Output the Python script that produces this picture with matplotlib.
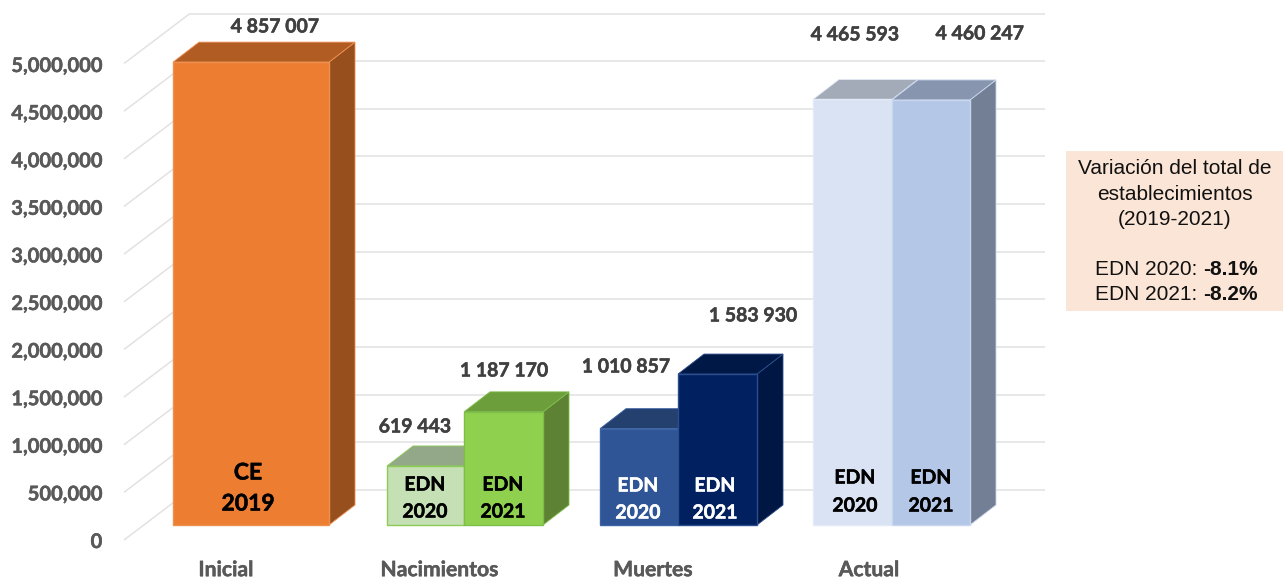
import matplotlib
matplotlib.use("Agg")
import matplotlib.pyplot as plt
import matplotlib.patheffects as pe
from matplotlib.patches import Polygon, Rectangle

# ---- data ----
groups = ["Inicial", "Nacimientos", "Muertes", "Actual"]
tick_values = [0, 500000, 1000000, 1500000, 2000000, 2500000, 3000000, 3500000, 4000000, 4500000, 5000000]
inicial_values = [4857007]
nacimientos_values = [619443, 1187170]
muertes_values = [1010857, 1583930]
actual_values = [4465593, 4460247]
inner_labels = ["CE\n2019", "EDN\n2020", "EDN\n2021", "EDN\n2020", "EDN\n2021", "EDN\n2020", "EDN\n2021"]
value_labels = ["4 857 007", "619 443", "1 187 170", "1 010 857", "1 583 930", "4 465 593", "4 460 247"]

# ---- layout (pixels) ----
W, H = 1285, 578
PXV = 95.3e-6          # pixels per unit of value
BASE = 525
DX, DYPX = 26, 20
DY = DYPX / PXV
LBL = "Lato"
fig = plt.figure(figsize=(W / 100, H / 100), dpi=100, facecolor="white")
ax = fig.add_axes([0, 0, 1, 1], facecolor="none")
ax.set_xlim(0, W)
ax.set_ylim(-(H - BASE) / PXV, BASE / PXV)
ax.axis("off")

def yv(px):
    return (BASE - px) / PXV

def thick(col, w=0.35):
    return [pe.withStroke(linewidth=w, foreground=col)]

# walls
GRID = "#e2e2e2"
BACK0 = 490
for v in tick_values:
    yb = yv(BACK0) + v
    yf = yv(540) + v
    ax.plot([124, 190], [yf, yb], color=GRID, lw=1.1, zorder=1, solid_capstyle="butt")
    ax.plot([190, 1045], [yb, yb], color=GRID, lw=1.1, zorder=1, solid_capstyle="butt")

# bars: left, right, value, front, top, side, edge
bars = [
    (173, 329, inicial_values[0], "#ED7D31", "#B15C23", "#97501D", "#F09050"),
    (387, 464, nacimientos_values[0], "#C5E0B4", "#93A889", "#7F9A70", "#8CCB55"),
    (464, 543, nacimientos_values[1], "#8FD14F", "#6D9E3C", "#5E8233", "#7DBF48"),
    (600, 678, muertes_values[0], "#2F5597", "#24406F", "#1E3560", "#3A62A5"),
    (678, 757, muertes_values[1], "#002060", "#001845", "#001643", "#2C4E8C"),
    (813, 892, actual_values[0], "#DAE3F3", "#A3ABB8", "#8E96A3", "#E4EAF6"),
    (892, 970, actual_values[1], "#B4C7E7", "#8796AE", "#727F95", "#C8D6EE"),
]
z = 3
for left, right, val, front, top, side, edge in bars:
    ax.add_patch(Polygon([(right, 0), (right + DX, DY), (right + DX, val + DY), (right, val)],
                         facecolor=side, edgecolor=edge, lw=0.6, zorder=z))
    ax.add_patch(Polygon([(left, val), (left + DX, val + DY), (right + DX, val + DY), (right, val)],
                         facecolor=top, edgecolor=edge, lw=0.6, zorder=z))
    ax.add_patch(Rectangle((left, 0), right - left, val, facecolor=front, edgecolor=edge, lw=1.0, zorder=z + 0.5))
    z += 1

# inner labels
inner_pos = [(248, 473, 504, 16.5, "black"),
             (425, 485, 512, 14, "black"), (503, 485, 512, 14, "black"),
             (638, 486, 513, 14, "white"), (715, 486, 513, 14, "white"),
             (855, 478, 506, 14, "black"), (931, 478, 506, 14, "black")]
for lab, (x, y1, y2, fs, col) in zip(inner_labels, inner_pos):
    a, b = lab.split("\n")
    for s, y in ((a, y1), (b, y2)):
        ax.text(x, yv(y), s, ha="center", va="center", fontsize=fs, fontweight="bold", color=col,
                family=LBL, zorder=30, path_effects=thick(col))

# value labels
val_pos = [(275, 27), (415, 427), (504, 371), (626, 367), (753, 316), (855, 35), (980, 34)]
for lab, (x, y) in zip(value_labels, val_pos):
    ax.text(x, yv(y), lab, ha="center", va="center", fontsize=14, fontweight="bold", color="#404040",
            family=LBL, zorder=30, path_effects=thick("#404040"))

# axis tick labels on a transparent axes
tx = fig.add_axes([105 / W, (H - 556) / H, (W - 105) / W, 556 / H], facecolor="none")
TPX = 95.2e-6
tx.set_ylim(-(556 - 540) / TPX, 540 / TPX)
tx.set_xlim(105, W)
for s in tx.spines.values():
    s.set_visible(False)
tx.set_yticks(tick_values)
tx.set_yticklabels([f"{v:,}" for v in tick_values], fontsize=14.5, fontweight="bold", color="#595959", family=LBL,
                   path_effects=thick("#595959"))
tx.set_xticks([226, 439.5, 653, 869])
tx.set_xticklabels(groups, fontsize=15.2, fontweight="bold", color="#595959", family=LBL,
                   path_effects=thick("#595959"))
tx.tick_params(length=0, axis="y", pad=2)
tx.tick_params(length=0, axis="x", pad=3)

# note box
ax.add_patch(Rectangle((1066, yv(311)), 217, yv(151) - yv(311), facecolor="#FBE5D6", edgecolor="none", zorder=20))
NF = "Liberation Sans"
for s, y in [("Variación del total de", 168), ("establecimientos", 194), ("(2019-2021)", 219)]:
    ax.text(1175, yv(y), s, ha="center", va="center", fontsize=15, color="#111111", family=NF, zorder=30)
for a, b, y in [("EDN 2020:", "-8.1%", 269), ("EDN 2021:", "-8.2%", 295)]:
    ax.text(1197, yv(y), a, ha="right", va="center", fontsize=15, color="#111111", family=NF, zorder=30)
    ax.text(1203, yv(y), b, ha="left", va="center", fontsize=15, fontweight="bold", color="#111111", family=NF, zorder=30)

fig.savefig("out.png", dpi=100)
